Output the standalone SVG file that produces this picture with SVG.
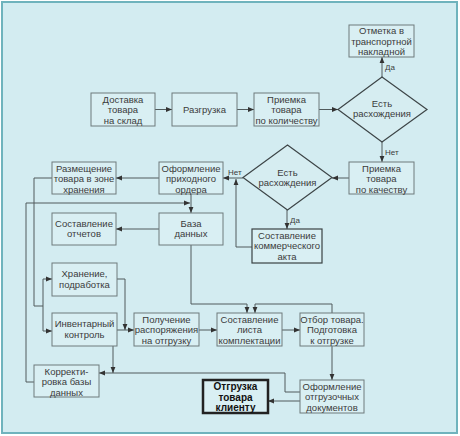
<svg xmlns="http://www.w3.org/2000/svg" width="460" height="436" viewBox="0 0 460 436">
<defs>
<marker id="ah" viewBox="0 0 10 10" refX="10" refY="5" markerWidth="6" markerHeight="6" orient="auto" markerUnits="userSpaceOnUse">
<path d="M0,1 L10,5 L0,9 z" fill="#333"/>
</marker>
<style>
.bg{fill:#d3ecf1;stroke:#6fb3bd;stroke-width:2}
.box{fill:#d9eff3;stroke:#6e7a7c;stroke-width:1}
.dark{fill:#d9eff3;stroke:#3a4244;stroke-width:1.2}
.bold{fill:#d9eff3;stroke:#222;stroke-width:2.5}
.dia{fill:#d6edf1;stroke:#3d4547;stroke-width:1.2}
text{font-family:"Liberation Sans",Arial,sans-serif;font-size:9.5px;fill:#3b3b3b;text-anchor:middle}
.b{font-weight:bold;font-size:10px;fill:#111}
.lbl{font-size:8px;text-anchor:start}
.c path,.c line,.c polyline{fill:none;stroke:#505a5c;stroke-width:1}
.a{marker-end:url(#ah)}
</style>
</defs>
<rect class="bg" x="2" y="2" width="455" height="431"/>

<g class="c">
<line class="a" x1="155" y1="109.5" x2="172" y2="109.5"/>
<line class="a" x1="237" y1="109.5" x2="254" y2="109.5"/>
<line class="a" x1="319" y1="109.5" x2="338" y2="109.5"/>
<line class="a" x1="382" y1="77" x2="382" y2="57"/>
<line class="a" x1="382" y1="142" x2="382" y2="162"/>
<line class="a" x1="349" y1="178" x2="332" y2="178"/>
<line class="a" x1="243" y1="178" x2="223" y2="178"/>
<line class="a" x1="287" y1="210" x2="287" y2="229"/>
<polyline class="a" points="252,247 236,247 236,179"/>
<line class="a" x1="159" y1="178" x2="116" y2="178"/>
<line class="a" x1="191" y1="194" x2="191" y2="213"/>
<line class="a" x1="159" y1="229" x2="116" y2="229"/>
<polyline class="a" points="34,382 26,382 26,203 190,203"/>
<polyline points="52,178 34,178 34,306 43,306"/>
<line x1="43" y1="279" x2="43" y2="331"/>
<line class="a" x1="43" y1="279" x2="52" y2="279"/>
<line class="a" x1="43" y1="331" x2="52" y2="331"/>
<polyline class="a" points="117,279 125,279 125,330"/>
<line class="a" x1="117" y1="330" x2="134" y2="330"/>
<line class="a" x1="199" y1="330" x2="217" y2="330"/>
<line class="a" x1="282" y1="330" x2="300" y2="330"/>
<polyline class="a" points="191,245 191,304 247,304 247,313"/>
<polyline class="a" points="332,313 332,304 255,304 255,313"/>
<line class="a" x1="332" y1="346" x2="332" y2="380"/>
<line class="a" x1="300" y1="401" x2="268" y2="401"/>
<polyline class="a" points="300,392 285,392 285,373 99,373"/>
<line class="a" x1="113" y1="346" x2="113" y2="373"/>
<text class="lbl" x="385" y="70">Да</text>
<text class="lbl" x="385" y="155">Нет</text>
<text class="lbl" x="228" y="175">Нет</text>
<text class="lbl" x="290" y="223">Да</text>
</g>

<g id="dostavka"><rect class="box" x="91" y="93" width="64" height="33"/>
<text x="123" y="102.5">Доставка</text><text x="123" y="113">товара</text><text x="123" y="123.5">на склад</text></g>

<g id="razgruzka"><rect class="box" x="172" y="93" width="65" height="33"/>
<text x="204.5" y="113">Разгрузка</text></g>

<g id="priemka-kol"><rect class="box" x="254" y="93" width="65" height="33"/>
<text x="286.5" y="102.5">Приемка</text><text x="286.5" y="113">товара</text><text x="286.5" y="123.5">по количеству</text></g>

<g id="diamond1"><polygon class="dia" points="382,77 427,109.5 382,142 338,109.5"/>
<text x="382" y="106.5">Есть</text><text x="382" y="116.5">расхождения</text></g>

<g id="otmetka"><rect class="box" x="349" y="25" width="65" height="32"/>
<text x="381.5" y="34">Отметка в</text><text x="381.5" y="44.5">транспортной</text><text x="381.5" y="55">накладной</text></g>

<g id="priemka-kach"><rect class="box" x="349" y="162" width="65" height="32"/>
<text x="381.5" y="171.5">Приемка</text><text x="381.5" y="182">товара</text><text x="381.5" y="192.5">по качеству</text></g>

<g id="diamond2"><polygon class="dia" points="287.5,145 332,177.5 287.5,210 243,177.5"/>
<text x="287.5" y="175.5">Есть</text><text x="287.5" y="185.5">расхождения</text></g>

<g id="akt"><rect class="dark" x="252" y="229" width="70" height="34"/>
<text x="287" y="238.5">Составление</text><text x="287" y="249">коммерческого</text><text x="287" y="259.5">акта</text></g>

<g id="oformlenie-prih"><rect class="box" x="159" y="162" width="64" height="32"/>
<text x="191" y="171.5">Оформление</text><text x="191" y="182">приходного</text><text x="191" y="192.5">ордера</text></g>

<g id="razmeshenie"><rect class="box" x="52" y="162" width="64" height="32"/>
<text x="84" y="171.5">Размещение</text><text x="84" y="182">товара в зоне</text><text x="84" y="192.5">хранения</text></g>

<g id="baza"><rect class="box" x="159" y="213" width="64" height="32"/>
<text x="191" y="226.5">База</text><text x="191" y="237">данных</text></g>

<g id="otchety"><rect class="box" x="52" y="213" width="64" height="32"/>
<text x="84" y="226.5">Составление</text><text x="84" y="237">отчетов</text></g>

<g id="hranenie"><rect class="box" x="52" y="263" width="65" height="33"/>
<text x="84.5" y="277">Хранение,</text><text x="84.5" y="287.5">подработка</text></g>

<g id="inventar"><rect class="box" x="52" y="313" width="65" height="33"/>
<text x="84.5" y="327">Инвентарный</text><text x="84.5" y="337.5">контроль</text></g>

<g id="poluchenie"><rect class="box" x="134" y="313" width="65" height="33"/>
<text x="166.5" y="322.5">Получение</text><text x="166.5" y="333">распоряжения</text><text x="166.5" y="343.5">на отгрузку</text></g>

<g id="list"><rect class="box" x="217" y="313" width="65" height="33"/>
<text x="249.5" y="322.5">Составление</text><text x="249.5" y="333">листа</text><text x="249.5" y="343.5">комплектации</text></g>

<g id="otbor"><rect class="box" x="300" y="313" width="64" height="33"/>
<text x="332" y="322.5">Отбор товара.</text><text x="332" y="333">Подготовка</text><text x="332" y="343.5">к отгрузке</text></g>

<g id="korrekt"><rect class="box" x="34" y="365" width="65" height="32"/>
<text x="66.5" y="374.5">Корректи-</text><text x="66.5" y="385">ровка базы</text><text x="66.5" y="395.5">данных</text></g>

<g id="otgruzka"><rect class="bold" x="203" y="380" width="65" height="33"/>
<text class="b" x="235.5" y="390">Отгрузка</text><text class="b" x="235.5" y="400.5">товара</text><text class="b" x="235.5" y="411">клиенту</text></g>

<g id="oformlenie-otgr"><rect class="box" x="300" y="380" width="64" height="33"/>
<text x="332" y="389.5">Оформление</text><text x="332" y="400">отгрузочных</text><text x="332" y="410.5">документов</text></g>
</svg>
